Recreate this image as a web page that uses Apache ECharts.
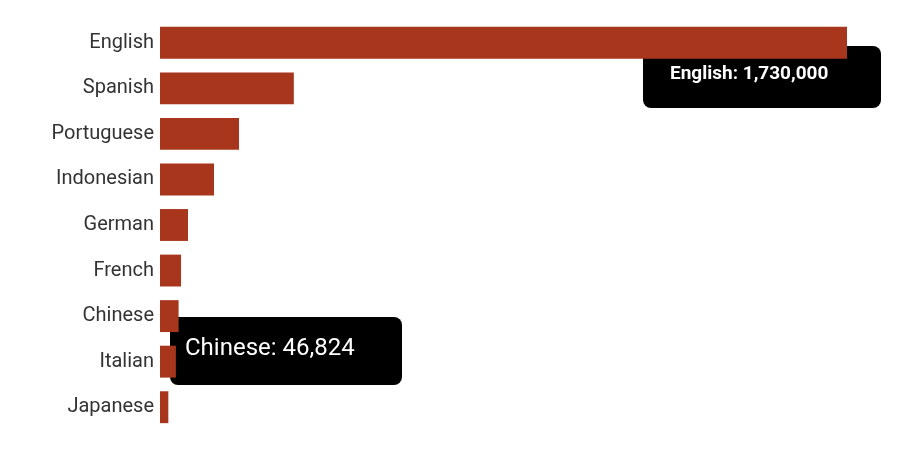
<!DOCTYPE html>
<html><head><meta charset="utf-8">
<script src="https://cdn.jsdelivr.net/npm/echarts@6/dist/echarts.min.js"></script>
<style>html,body{margin:0;background:#fff}#c{width:900px;height:452px}</style>
</head><body><div id="c"></div>
<script>
var languages = ['English', 'Spanish', 'Portuguese', 'Indonesian', 'German', 'French', 'Chinese', 'Italian', 'Japanese'];
var speakers = [1730000, 337000, 199000, 136000, 70500, 53000, 46824, 40000, 21000];

function fmt(v) { return v.toLocaleString('en-US'); }

var chart = echarts.init(document.getElementById('c'));
chart.setOption({
  animation: false,
  grid: { left: 160, right: 53, top: 20, bottom: 22 },
  xAxis: { type: 'value', max: 1730000, show: false },
  yAxis: {
    type: 'category', inverse: true, data: languages,
    axisLine: { show: false }, axisTick: { show: false },
    axisLabel: { color: '#333', fontSize: 20, margin: 6, fontFamily: 'Roboto' }
  },
  series: [{
    type: 'bar', data: speakers, barCategoryGap: '30%',
    itemStyle: { color: '#a8361d' }
  }],
  graphic: [
    { type: 'rect', left: 643, top: 46, shape: { width: 238, height: 62, r: 8 }, style: { fill: '#000' } },
    { type: 'text', left: 670, top: 65, style: { text: languages[0] + ': ' + fmt(speakers[0]), fill: '#fff', font: 'bold 19px Roboto' } },
    { type: 'rect', left: 170, top: 317, shape: { width: 232, height: 68, r: 8 }, style: { fill: '#000' } },
    { type: 'text', left: 185, top: 337, style: { text: languages[6] + ': ' + fmt(speakers[6]), fill: '#fff', font: '24px Roboto' } }
  ]
});
</script></body></html>
